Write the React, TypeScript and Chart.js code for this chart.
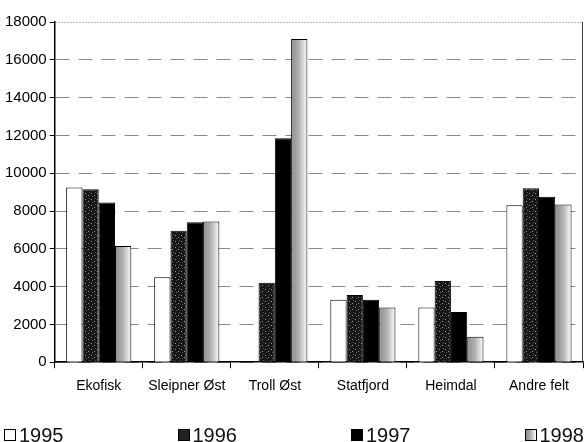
import React, { useEffect, useRef } from "react";
import { Chart, registerables } from "chart.js";

Chart.register(...registerables);

const CATEGORIES = ["Ekofisk", "Sleipner Øst", "Troll Øst", "Statfjord", "Heimdal", "Andre felt"];
const SERIES_NAMES = ["1995", "1996", "1997", "1998"];
const V1995 = [9250, 4500, 0, 3300, 2900, 8300];
const V1996 = [9150, 6950, 4200, 3550, 4300, 9200];
const V1997 = [8450, 7400, 11850, 3300, 2650, 8750];
const V1998 = [6150, 7450, 17100, 2900, 1350, 8350];
const Y_MIN = 0;
const Y_MAX = 18000;
const Y_STEP = 2000;

const CAT_PCT = 0.74;
const FONT = "'Liberation Sans', Arial, sans-serif";

function speckle(): CanvasPattern | string {
  const c = document.createElement("canvas");
  c.width = 6;
  c.height = 6;
  const x = c.getContext("2d");
  if (!x) return "#222";
  x.fillStyle = "#161616";
  x.fillRect(0, 0, 6, 6);
  x.fillStyle = "#9a9a9a";
  x.fillRect(1, 1, 1, 1);
  x.fillRect(4, 3, 1, 1);
  x.fillStyle = "#5a5a5a";
  x.fillRect(2, 4, 1, 1);
  x.fillRect(5, 0, 1, 1);
  const p = x.createPattern(c, "repeat");
  return p || "#222";
}

export default function App() {
  const ref = useRef<HTMLCanvasElement>(null);

  useEffect(() => {
    if (!ref.current) return;
    const pat1996 = speckle();
    const grad1998 = (c: any) => {
      const chart = c.chart;
      const xs = chart.scales && chart.scales.x;
      if (!xs || c.dataIndex === undefined || !chart.chartArea) return "#c4c4c4";
      const center = xs.getPixelForValue(c.dataIndex);
      const catW = (xs.right - xs.left) / CATEGORIES.length;
      const bw = (catW * CAT_PCT) / 4;
      const g = chart.ctx.createLinearGradient(center + bw, 0, center + 2 * bw, 0);
      g.addColorStop(0, "#8c8c8c");
      g.addColorStop(0.5, "#b4b4b4");
      g.addColorStop(1, "#ffffff");
      return g;
    };

    const rightBorder = {
      id: "rightBorder",
      afterDraw(chart: any) {
        const { ctx, chartArea } = chart;
        ctx.save();
        ctx.strokeStyle = "#444";
        ctx.lineWidth = 1;
        ctx.beginPath();
        ctx.moveTo(chartArea.right - 0.5, chartArea.top);
        ctx.lineTo(chartArea.right - 0.5, chartArea.bottom);
        ctx.stroke();
        ctx.restore();
      },
    };

    const chart = new Chart(ref.current, {
      type: "bar",
      data: {
        labels: CATEGORIES,
        datasets: [
          { label: SERIES_NAMES[0], data: V1995, backgroundColor: "#ffffff", borderColor: "#000", borderWidth: 1 },
          { label: SERIES_NAMES[1], data: V1996, backgroundColor: pat1996 as any, borderColor: "#000", borderWidth: 1 },
          { label: SERIES_NAMES[2], data: V1997, backgroundColor: "#000000", borderColor: "#000", borderWidth: 1 },
          { label: SERIES_NAMES[3], data: V1998, backgroundColor: grad1998 as any, borderColor: "#000", borderWidth: 1 },
        ],
      },
      options: {
        animation: false,
        responsive: false,
        maintainAspectRatio: false,
        layout: { padding: { top: 22, right: 1, left: 2, bottom: 0 } },
        datasets: { bar: { categoryPercentage: CAT_PCT, barPercentage: 1 } },
        plugins: { legend: { display: false }, tooltip: { enabled: false } },
        scales: {
          x: {
            grid: { display: true, drawOnChartArea: false, offset: true, tickLength: 6, color: "#000" },
            border: { display: true, color: "#000", width: 1.5 },
            ticks: {
              color: "#000",
              font: { family: FONT, size: 14 },
              padding: 10,
              maxRotation: 0,
              minRotation: 0,
              autoSkip: false,
            },
          },
          y: {
            min: Y_MIN,
            max: Y_MAX,
            ticks: {
              stepSize: Y_STEP,
              color: "#000",
              font: { family: FONT, size: 15 },
              padding: 3,
              callback: (v: any) => String(v),
            },
            grid: {
              color: (c: any) => (c.tick && c.tick.value === Y_MAX ? "#777" : "#8a8a8a"),
              tickColor: "#000",
              tickLength: 5,
              tickBorderDash: [],
            } as any,
            border: {
              display: true,
              color: "#000",
              width: 1.5,
              dash: (c: any) => (c.tick && c.tick.value === Y_MAX ? [1, 2] : [14, 9]),
            } as any,
          },
        },
      },
      plugins: [rightBorder],
    });
    return () => chart.destroy();
  }, []);

  const sw = (bg: string): React.CSSProperties => ({
    display: "inline-block",
    width: 10,
    height: 10,
    border: "1px solid #000",
    background: bg,
    marginRight: 3,
  });

  const swatches = [
    sw("#fff"),
    sw("#222"),
    sw("#000"),
    sw("linear-gradient(90deg,#8c8c8c,#b4b4b4,#fff)"),
  ];

  return (
    <div style={{ position: "fixed", left: 0, top: 0, width: 584, height: 442, background: "#fff" }}>
      <canvas ref={ref} width={584} height={405} style={{ position: "absolute", left: 0, top: 0 }} />
      <div
        style={{
          position: "absolute",
          left: 4,
          right: 0,
          top: 424,
          display: "flex",
          justifyContent: "space-between",
          fontFamily: FONT,
          fontSize: 20,
          lineHeight: "22px",
          color: "#111",
        }}
      >
        {SERIES_NAMES.map((n, i) => (
          <span key={n} style={{ display: "flex", alignItems: "center" }}>
            <span style={swatches[i]} />
            {n}
          </span>
        ))}
      </div>
    </div>
  );
}
